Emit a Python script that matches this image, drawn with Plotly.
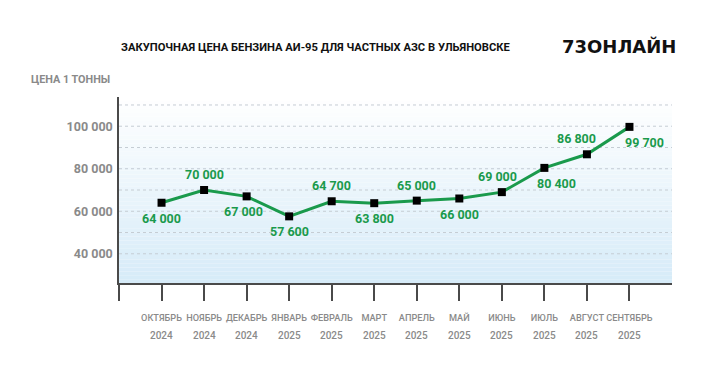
import plotly.graph_objects as go

# ---- data ----
months = ["ОКТЯБРЬ", "НОЯБРЬ", "ДЕКАБРЬ", "ЯНВАРЬ", "ФЕВРАЛЬ", "МАРТ",
          "АПРЕЛЬ", "МАЙ", "ИЮНЬ", "ИЮЛЬ", "АВГУСТ", "СЕНТЯБРЬ"]
years = ["2024", "2024", "2024", "2025", "2025", "2025",
         "2025", "2025", "2025", "2025", "2025", "2025"]
prices = [64000, 70000, 67000, 57600, 64700, 63800,
          65000, 66000, 69000, 80400, 86800, 99700]
y_tick_values = [40000, 60000, 80000, 100000]
grid_values = [40000, 50000, 60000, 70000, 80000, 90000, 100000, 110000]

title_text = "ЗАКУПОЧНАЯ ЦЕНА БЕНЗИНА АИ-95 ДЛЯ ЧАСТНЫХ АЗС В УЛЬЯНОВСКЕ"
unit_text = "ЦЕНА 1 ТОННЫ"
logo_text = "73ОНЛАЙН"

# ---- style ----
# the page body adds an 8px margin, so the figure is 8px smaller and
# every target page-pixel position is shifted by -8
OFF = 8
W, H = 720 - OFF, 379 - OFF
ML, MT = 119 - OFF, 97 - OFF
PW, PH = 553, 186
MR, MB = W - ML - PW, H - MT - PH
COND = "Roboto, Liberation Sans, sans-serif"
GREEN = "#1a9a4c"
GREY = "#8a8a8a"
AXIS = "#4a4a4a"

# label placement: +1 above, -1 below ; extra horizontal shift (px)
label_side = [-1, 1, -1, -1, 1, -1, 1, -1, 1, -1, 1, -1]
label_dx = [0, 0, -3, 0, 0, 0, 0, 0, -4, 12, -10, 15]


def px_x(px):
    return (px - OFF - ML) / PW


def px_y(py):
    return (H - MB - (py - OFF)) / PH


def fmt(v):
    return f"{v:,}".replace(",", " ")


x_idx = list(range(len(months)))

fig = go.Figure()
fig.add_trace(go.Scatter(
    x=x_idx, y=prices, mode="lines+markers",
    line=dict(color=GREEN, width=3),
    marker=dict(symbol="square", size=8, color="#000000", line=dict(width=0)),
    hoverinfo="skip", showlegend=False,
))

shapes = []
# vertical gradient background
N = 48
top = (255, 255, 255)
bot = (214, 235, 248)
for i in range(N):
    t = (i + 0.5) / N  # 0 bottom .. 1 top
    c = tuple(round(bot[k] + (top[k] - bot[k]) * t) for k in range(3))
    shapes.append(dict(type="rect", xref="x domain", yref="y domain",
                       x0=0, x1=1, y0=i / N, y1=(i + 1) / N,
                       fillcolor=f"rgb{c}", line=dict(width=0), layer="below"))
for g in grid_values:
    shapes.append(dict(type="line", xref="x domain", yref="y",
                       x0=0, x1=1, y0=g, y1=g,
                       line=dict(color="#c5cdd4", width=1, dash="3px,3px"),
                       layer="below"))

annotations = []
for i, v in enumerate(prices):
    annotations.append(dict(
        x=i, y=v, xref="x", yref="y", text=fmt(v), showarrow=False,
        xshift=label_dx[i], yshift=15.5 * label_side[i],
        font=dict(family=COND, size=12.5, color=GREEN, weight="bold"),
        xanchor="center", yanchor="middle",
    ))
# year line under each month tick label
for i, y in enumerate(years):
    annotations.append(dict(
        x=i, y=px_y(335), xref="x", yref="paper", text=y, showarrow=False,
        xanchor="center", yanchor="middle",
        font=dict(family=COND, size=10, color=GREY, weight=500),
    ))

annotations.append(dict(
    x=px_x(119), y=px_y(47), xref="paper", yref="paper", text=title_text,
    showarrow=False, xanchor="left", yanchor="middle",
    font=dict(family=COND, size=11.2, color="#111111", weight="bold"),
))
annotations.append(dict(
    x=px_x(112), y=px_y(79), xref="paper", yref="paper", text=unit_text,
    showarrow=False, xanchor="right", yanchor="middle",
    font=dict(family=COND, size=10.8, color=GREY, weight="bold"),
))
annotations.append(dict(
    x=px_x(678), y=px_y(46), xref="paper", yref="paper", text=logo_text,
    showarrow=False, xanchor="right", yanchor="middle",
    font=dict(family="DejaVu Sans, sans-serif", size=18, color="#111111",
              weight="bold"),
))

fig.update_layout(
    width=W, height=H,
    margin=dict(l=ML, r=MR, t=MT, b=MB, pad=0),
    paper_bgcolor="#ffffff", plot_bgcolor="rgba(0,0,0,0)",
    shapes=shapes, annotations=annotations,
    font=dict(family=COND),
)
fig.update_xaxes(
    range=[-1, 12],
    tickvals=[-1] + x_idx,
    ticktext=[""] + months,
    tickangle=0,
    ticks="outside", ticklen=16, tickwidth=1.5, tickcolor=AXIS,
    showline=True, linecolor=AXIS, linewidth=1.5,
    showgrid=False, zeroline=False,
    ticklabelstandoff=9,
    tickfont=dict(family=COND, size=9.2, color=GREY, weight=500),
    fixedrange=True,
)
fig.update_yaxes(
    range=[26250, 113750],
    tickvals=y_tick_values,
    ticktext=[fmt(v) for v in y_tick_values],
    ticks="", showline=True, linecolor=AXIS, linewidth=1.5,
    showgrid=False, zeroline=False,
    ticklabelstandoff=2,
    tickfont=dict(family=COND, size=12.5, color=GREY, weight="bold"),
    fixedrange=True,
)

fig.write_html("out.html", config={"displayModeBar": False})
